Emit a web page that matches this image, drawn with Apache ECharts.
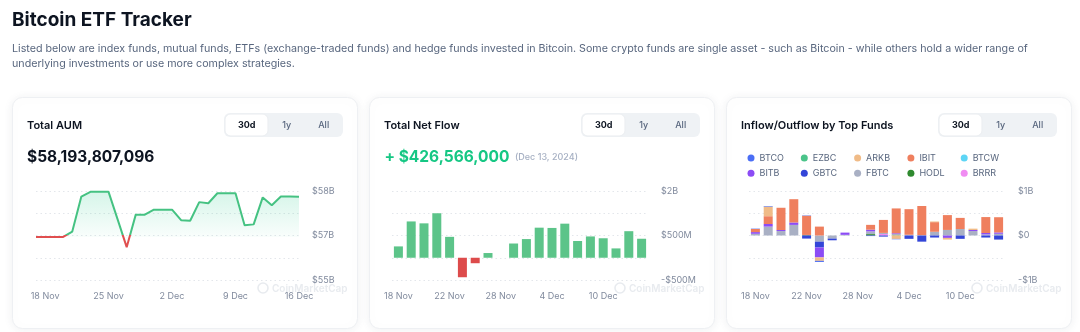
<!DOCTYPE html>
<html><head><meta charset="utf-8">
<script src="https://cdn.jsdelivr.net/npm/echarts@6/dist/echarts.min.js"></script>
<style>html,body{margin:0;padding:0;background:#fff}#c{width:1080px;height:332px}</style>
</head><body><div id="c"></div><script>
// ---------- texts ----------
const pageTitle = 'Bitcoin ETF Tracker';
const pageDesc = 'Listed below are index funds, mutual funds, ETFs (exchange-traded funds) and hedge funds invested in Bitcoin. Some crypto funds are single asset - such as Bitcoin - while others hold a wider range of\nunderlying investments or use more complex strategies.';
const cardTitles = ['Total AUM', 'Total Net Flow', 'Inflow/Outflow by Top Funds'];
const rangeLabels = ['30d', '1y', 'All'];
const aumHeadline = '$58,193,807,096';
const flowHeadline = '+ $426,566,000';
const flowHeadlineDate = '(Dec 13, 2024)';
const watermarkText = 'CoinMarketCap';

// ---------- chart 1: Total AUM (billions USD) ----------
const aumDates = ['17 Nov','18 Nov','19 Nov','20 Nov','21 Nov','22 Nov','23 Nov','24 Nov','25 Nov','26 Nov','27 Nov','28 Nov','29 Nov','30 Nov',
  '1 Dec','2 Dec','3 Dec','4 Dec','5 Dec','6 Dec','7 Dec','8 Dec','9 Dec','10 Dec','11 Dec','12 Dec','13 Dec','14 Dec','15 Dec','16 Dec'];
const aumValues = [56.75, 56.75, 56.75, 56.75, 56.94, 58.2, 58.37, 58.37, 58.37, 57.38, 56.38, 57.55, 57.55, 57.73, 57.73,
  57.73, 57.35, 57.33, 58.0, 57.96, 58.32, 58.32, 58.32, 57.17, 57.2, 58.17, 57.89, 58.2, 58.2, 58.19];
const aumTickLabels = ['$55B', '', '$57B', '', '$58B'];
const aumBaseline = 56.75;

// ---------- chart 2: Total Net Flow (billions USD) ----------
const flowDates = ['18 Nov','19 Nov','20 Nov','21 Nov','22 Nov','25 Nov','26 Nov','27 Nov','28 Nov','29 Nov',
  '2 Dec','3 Dec','4 Dec','5 Dec','6 Dec','9 Dec','10 Dec','11 Dec','12 Dec','13 Dec'];
const netFlow = [0.255, 0.816, 0.773, 1.0, 0.47, -0.438, -0.123, 0.106, null, 0.32,
  0.42, 0.676, 0.67, 0.766, 0.376, 0.479, 0.438, 0.21, 0.597, 0.427];
const flowTickLabels = ['-$500M', '', '$500M', '', '$2B'];

// ---------- chart 3: Inflow/Outflow by fund (billions USD) ----------
const fundLegend = ['BTCO','EZBC','ARKB','IBIT','BTCW','BITB','GBTC','FBTC','HODL','BRRR'];
const fundStackOrder = ['BRRR','HODL','FBTC','GBTC','BITB','BTCW','IBIT','ARKB','EZBC','BTCO'];
const flowIBIT = [0.083, 0.21, 0.60, 0.628, 0.517, 0.24, 0, 0, null, 0.13, 0.35, 0.67, 0.69, 0.785, 0.26, 0.40, 0.30, 0, 0.43, 0.41];
const flowFBTC = [0.046, 0.24, 0.12, 0.286, 0, -0.166, -0.083, 0.018, null, 0.074, 0.03, 0.03, 0.02, 0.01, 0.10, 0.15, 0.175, 0.12, 0.03, 0.046];
const flowBITB = [0.046, 0.07, 0.028, 0.065, 0, -0.268, 0, 0.06, null, 0.046, 0, 0.02, 0, 0, 0, -0.065, 0, 0.028, 0.037, 0.037];
const flowARKB = [0, 0.26, 0, 0, 0, -0.092, 0, 0, null, 0, 0, -0.092, 0, 0, 0.018, -0.045, 0, 0.037, 0, 0];
const flowGBTC = [0, 0, 0, 0, -0.083, -0.157, -0.046, 0, null, -0.015, -0.03, 0, -0.09, -0.166, -0.055, 0, -0.09, 0, -0.055, -0.11];
const flowBTCO = [0.01, 0.015, 0, 0, 0.01, -0.03, 0, 0, null, 0, 0, -0.01, 0, 0, 0, 0, 0, 0, 0, 0];
const flowHODL = [0, 0, 0, 0, 0.015, 0, 0, 0, null, 0.037, 0, 0.01, 0, 0, 0, 0, 0, 0, 0, 0];
const flowBRRR = [0, 0, 0, 0, 0, 0, 0, 0, null, 0, 0.04, 0, 0, 0, 0, 0, 0, 0, 0, 0];
const flowEZBC = [0, 0, 0, 0, 0, 0, 0, 0, null, 0, 0, 0, 0, 0, 0, 0, 0, 0, 0, 0];
const flowBTCW = [0, 0, 0, 0, 0, 0, 0, 0, null, 0, 0, 0, 0, 0, 0, 0, 0, 0, 0, 0];
const fundTickLabels = ['-$1B', '', '$0', '', '$1B'];

// ---------- styles ----------
const FONT = 'Inter';
const GREEN = '#16c784', LINE_GREEN = '#45c282', RED = '#e04f4f';
const BAR_GREEN = '#5cc489', BAR_RED = '#dd4b4b';
const fundColors = { BTCO:'#4b6ef5', EZBC:'#4bc48a', ARKB:'#f0bb87', IBIT:'#ef7f5e', BTCW:'#5dd5f5',
  BITB:'#8c4cf5', GBTC:'#3345d8', FBTC:'#a9b0c4', HODL:'#2f8a2f', BRRR:'#f08cf2' };
const fundData = { BTCO:flowBTCO, EZBC:flowEZBC, ARKB:flowARKB, IBIT:flowIBIT, BTCW:flowBTCW,
  BITB:flowBITB, GBTC:flowGBTC, FBTC:flowFBTC, HODL:flowHODL, BRRR:flowBRRR };
const AXIS_GRAY = '#808a9d', GRID_GRAY = '#e3e6eb';

const CARD_X = [12, 369, 726], CARD_Y = 97, CARD_W = 345, CARD_H = 231;

function txt(x, y, text, size, weight, color, extra) {
  return Object.assign({ type: 'text', x: x, y: y, silent: true,
    style: Object.assign({ text: text, fontSize: size, fontWeight: weight, fontFamily: FONT, fill: color,
      align: 'left', verticalAlign: 'middle' }, extra || {}) });
}

const graphics = [];
graphics.push(txt(12, 20, pageTitle, 19, 700, '#0d1421'));
graphics.push(txt(12, 40.8, pageDesc, 10.7, 400, '#58667e', { verticalAlign: 'top', lineHeight: 15 }));

CARD_X.forEach(function (cx, i) {
  graphics.push({ type: 'rect', z: -10, silent: true,
    shape: { x: cx + 0.5, y: CARD_Y + 0.5, width: CARD_W, height: CARD_H, r: 10 },
    style: { fill: '#fff', stroke: '#eef0f3', lineWidth: 1, shadowBlur: 10, shadowOffsetY: 1, shadowColor: 'rgba(88,102,126,0.09)' } });
  graphics.push(txt(cx + 15, 125.7, cardTitles[i], 11, 600, '#0d1421'));
  graphics.push({ type: 'rect', z: -5, silent: true, shape: { x: cx + 212, y: 113, width: 119, height: 24, r: 6 }, style: { fill: '#eff2f5' } });
  graphics.push({ type: 'rect', z: -4, silent: true, shape: { x: cx + 213.5, y: 114.5, width: 42, height: 21, r: 5 },
    style: { fill: '#fff', shadowBlur: 2, shadowColor: 'rgba(0,0,0,0.06)' } });
  const centers = [234.7, 274.7, 311.7];
  rangeLabels.forEach(function (lab, k) {
    graphics.push(txt(cx + centers[k], 125.5, lab, 9, k === 0 ? 700 : 500, k === 0 ? '#0d1421' : '#58667e', { align: 'center' }));
  });
  graphics.push({ type: 'circle', silent: true, shape: { cx: cx + 251, cy: 288, r: 5 }, style: { fill: 'none', stroke: '#e8ebef', lineWidth: 1.6 } });
  graphics.push(txt(cx + 260, 288.5, watermarkText, 10, 600, '#e8ebef'));
});
graphics.push(txt(27, 157, aumHeadline, 15.5, 700, '#0d1421'));
graphics.push(txt(384.5, 157, flowHeadline, 15.5, 700, GREEN));
graphics.push(txt(515, 157, flowHeadlineDate, 9, 500, '#a6b0c3'));

function yAxis(gridIndex, min, max, interval, labels) {
  return { type: 'value', gridIndex: gridIndex, position: 'right', min: min, max: max, interval: interval,
    axisLine: { show: false }, axisTick: { show: false },
    splitLine: { show: true, lineStyle: { color: GRID_GRAY, type: [1.5, 3], width: 1 } },
    axisLabel: { color: AXIS_GRAY, fontSize: 9, fontFamily: FONT, margin: 13,
      formatter: function (v) { return labels[Math.round((v - min) / interval)] || ''; } } };
}
function xAxis(gridIndex, data, boundaryGap, interval) {
  return { type: 'category', gridIndex: gridIndex, data: data, boundaryGap: boundaryGap,
    axisLine: { show: false }, axisTick: { show: false },
    axisLabel: { color: AXIS_GRAY, fontSize: 9, fontFamily: FONT, margin: 12, interval: interval } };
}

const series = [];
series.push({ type: 'line', xAxisIndex: 0, yAxisIndex: 0, data: aumValues, showSymbol: false, smooth: false,
  lineStyle: { width: 2 }, z: 3,
  areaStyle: { origin: aumBaseline, color: { type: 'linear', x: 0, y: 0, x2: 0, y2: 1,
    colorStops: [{ offset: 0, color: 'rgba(22,199,132,0.25)' }, { offset: 0.8, color: 'rgba(22,199,132,0.04)' }, { offset: 1, color: 'rgba(22,199,132,0.0)' }] } } });
series.push({ type: 'bar', xAxisIndex: 1, yAxisIndex: 1, data: netFlow, barWidth: 9,
  itemStyle: { color: function (p) { return p.value < 0 ? BAR_RED : BAR_GREEN; } } });
fundStackOrder.forEach(function (name) {
  series.push({ type: 'bar', name: name, xAxisIndex: 2, yAxisIndex: 2, stack: 'funds', data: fundData[name], barWidth: 9,
    itemStyle: { color: fundColors[name] } });
});

const legends = fundLegend.map(function (name, i) {
  return { data: [name], left: 747.5 + (i % 5) * 53.3, top: i < 5 ? 153.5 : 168.8, padding: 0,
    itemWidth: 7, itemHeight: 7, itemGap: 4, icon: 'circle', selectedMode: false,
    textStyle: { fontSize: 9, color: '#58667e', fontFamily: FONT } };
});

const option = {
  animation: false,
  backgroundColor: '#ffffff',
  textStyle: { fontFamily: FONT },
  graphic: { elements: graphics },
  grid: [
    { left: 36, top: 191, width: 263, height: 89 },
    { left: 392, top: 191, width: 256, height: 89 },
    { left: 749, top: 191, width: 256, height: 89 }
  ],
  xAxis: [
    xAxis(0, aumDates, false, function (i) { return i % 7 === 1; }),
    xAxis(1, flowDates, true, 3),
    xAxis(2, flowDates, true, 3)
  ],
  yAxis: [
    yAxis(0, 55.2, 58.4, 0.8, aumTickLabels),
    yAxis(1, -0.5, 1.5, 0.5, flowTickLabels),
    yAxis(2, -1.2, 1.2, 0.6, fundTickLabels)
  ],
  visualMap: [{ type: 'piecewise', show: false, seriesIndex: 0, dimension: 1,
    pieces: [{ gte: 50, lt: 56.8, color: RED }, { gte: 56.8, lte: 70, color: LINE_GREEN }] }],
  legend: legends,
  series: series
};

const chart = echarts.init(document.getElementById('c'), null, { renderer: 'canvas' });
chart.setOption(option);
</script></body></html>
